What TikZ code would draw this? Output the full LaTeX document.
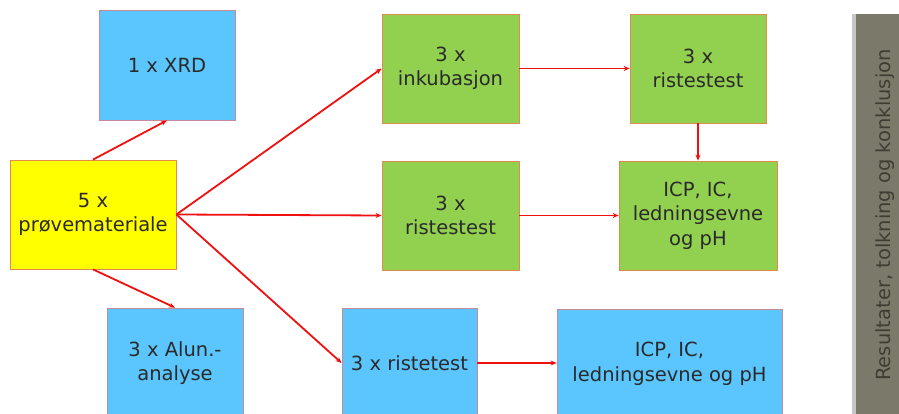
\documentclass[tikz,border=0pt]{standalone}
\usepackage{fontspec}
\setmainfont{DejaVu Sans}
\usetikzlibrary{arrows.meta}
\definecolor{boxblue}{HTML}{5BC5FD}
\definecolor{boxgreen}{HTML}{92D050}
\definecolor{boxyellow}{HTML}{FFFF00}
\definecolor{edgeorange}{HTML}{E08A50}
\definecolor{edgepink}{HTML}{C88A9A}
\definecolor{txt}{HTML}{2A2A2A}
\definecolor{arrowred}{HTML}{F01010}
\definecolor{barfill}{HTML}{7B7A6A}
\definecolor{bartext}{HTML}{3E3D34}
\tikzset{
  box/.style={draw, line width=0.8pt, inner sep=0pt, align=center, text=txt,
    font=\fontsize{19.5}{24.5}\selectfont},
  bluebox/.style={box, fill=boxblue, draw=edgepink},
  greenbox/.style={box, fill=boxgreen, draw=edgeorange},
  yellowbox/.style={box, fill=boxyellow, draw=edgeorange},
  flow/.style={draw=arrowred, line width=1.8pt, -{Stealth[length=6pt,width=5pt]}},
}
\begin{document}
\begin{tikzpicture}[x=1pt,y=-1pt]
\useasboundingbox (0,0) rectangle (899,414);
\clip (0,0) rectangle (899,414);

% left column
\node[bluebox, minimum width=136pt, minimum height=110pt] (xrd) at (167,65) {1 x XRD};
\node[yellowbox, minimum width=166pt, minimum height=109pt] (prove) at (93,214.5) {5 x\\prøvemateriale};
\node[bluebox, minimum width=136pt, minimum height=110pt] (alun) at (175,363) {3 x Alun.-\\analyse};

% middle column
\node[greenbox, minimum width=137pt, minimum height=109pt] (inkub) at (450.5,68.5) {3 x\\inkubasjon};
\node[greenbox, minimum width=137pt, minimum height=109pt] (rist1) at (450.5,215.5) {3 x\\ristestest};
\node[bluebox, minimum width=135pt, minimum height=110pt] (rist2) at (409.5,363) {3 x ristetest};

% right column
\node[greenbox, minimum width=136pt, minimum height=109pt] (rist3) at (698,68.5) {3 x\\ristestest};
\node[greenbox, minimum width=158pt, minimum height=109pt] (icp1) at (698,215.5) {ICP, IC,\\ledningsevne\\og pH};
\node[bluebox, minimum width=225pt, minimum height=110pt] (icp2) at (669.5,364) {ICP, IC,\\ledningsevne og pH};

% side bar with shadow
\fill[black!22] (852,14) rectangle (857,420);
\fill[barfill] (855.5,14) rectangle (905,420);
\node[rotate=90, text=bartext, font=\fontsize{19.5}{22}\selectfont] (bar) at (885,215) {Resultater, tolkning og konklusjon};

% connectors
\draw[flow] (prove.north) -- (xrd.south);
\draw[flow] (prove.south) -- (alun.north);
\draw[flow] (prove.east) -- (inkub.west);
\draw[flow] (prove.east) -- (rist1.west);
\draw[flow] (prove.east) -- (rist2.west);
\draw[flow] (inkub.east) -- (rist3.west);
\draw[flow] (rist1.east) -- (icp1.west);
\draw[flow] (rist3.south) -- (icp1.north);
\draw[flow] (rist2.east) -- (rist2.east -| icp2.west);
\end{tikzpicture}
\end{document}
